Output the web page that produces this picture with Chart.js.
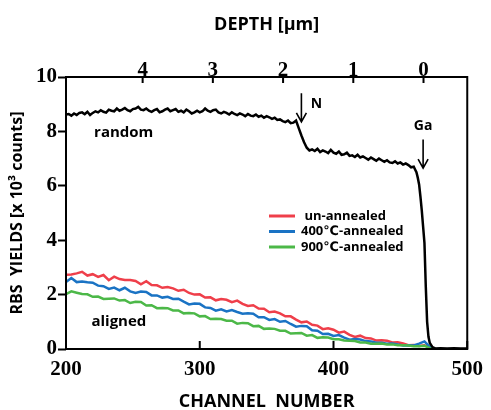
<!DOCTYPE html>
<html><head><meta charset="utf-8">
<script src="https://cdn.jsdelivr.net/npm/chart.js@4.4.1/dist/chart.umd.min.js"></script>
<style>html,body{margin:0;padding:0;background:#fff}canvas{display:block}</style>
</head><body>
<canvas id="c" width="491" height="410"></canvas>
<script>
// ---- data ----
const yTicks = [0, 2, 4, 6, 8, 10];
const xTicks = [200, 300, 400, 500];
const depthTicks = [0, 1, 2, 3, 4];
const depthZeroChannel = 467.3;   // channel at depth 0
const channelsPerMicron = 52.5;

const randomChannels = [200,202,204,206,208,210,212,214,216,218,220,222,224,226,228,230,232,234,236,238,240,242,244,246,248,250,252,254,256,258,260,262,264,266,268,270,272,274,276,278,280,282,284,286,288,290,292,294,296,298,300,302,304,306,308,310,312,314,316,318,320,322,324,326,328,330,332,334,336,338,340,342,344,346,348,350,352,354,356,358,360,362,364,366,368,370,372,374,376,378,380,382,384,386,388,390,392,394,396,398,400,402,404,406,408,410,412,414,416,418,420,422,424,426,428,430,432,434,436,438,440,442,444,446,448,450,452,454,456,458,460,461,462,463,464,465,466,467,468,469,470,471,472,474,476,480,485,490,495,500];
const randomYield = [
  8.62,8.64,8.58,8.66,8.60,8.68,8.70,8.63,8.72,8.60,
  8.68,8.74,8.70,8.78,8.72,8.69,8.80,8.76,8.74,8.84,
  8.76,8.80,8.86,8.78,8.74,8.82,8.84,8.90,8.80,8.78,
  8.84,8.76,8.72,8.78,8.82,8.70,8.74,8.80,8.84,8.74,
  8.78,8.82,8.72,8.76,8.70,8.80,8.74,8.66,8.70,8.76,
  8.70,8.74,8.84,8.76,8.72,8.78,8.80,8.70,8.66,8.72,
  8.68,8.62,8.70,8.64,8.60,8.66,8.62,8.56,8.64,8.58,
  8.56,8.62,8.54,8.58,8.50,8.56,8.52,8.46,8.50,8.42,
  8.44,8.38,8.34,8.40,8.30,8.32,8.40,8.12,7.85,7.60,
  7.40,7.30,7.34,7.28,7.36,7.24,7.30,7.26,7.20,7.32,
  7.22,7.18,7.26,7.14,7.16,7.22,7.10,7.12,7.06,7.14,
  7.04,7.08,7.02,6.96,7.04,6.98,6.92,7.00,6.94,6.88,
  6.94,6.86,6.84,6.90,6.82,6.86,6.78,6.82,6.76,6.68,
  6.70,6.60,6.50,6.30,6.05,5.60,5.10,4.50,3.90,2.30,
  1.00,0.45,0.22,0.07,0.02,0.03,0.02,0.03,0.02,0.02];

const alignedChannels = [200,204,208,212,216,220,224,228,232,236,240,244,248,252,256,260,264,268,272,276,280,284,288,292,296,300,304,308,312,316,320,324,328,332,336,340,344,348,352,356,360,364,368,372,376,380,384,388,392,396,400,404,408,412,416,420,424,428,432,436,440,444,448,452,456,460,464,468,472,476];
const unAnnealed = [2.73,2.74,2.78,2.84,2.70,2.75,2.65,2.72,2.53,2.66,2.57,2.54,2.54,2.50,2.38,2.49,2.35,2.34,2.25,2.28,2.23,2.14,2.18,2.06,2.00,2.01,1.89,1.90,1.79,1.84,1.81,1.72,1.78,1.66,1.58,1.61,1.49,1.48,1.35,1.38,1.31,1.20,1.20,1.08,0.98,1.01,0.89,0.86,0.73,0.76,0.71,0.60,0.64,0.52,0.44,0.49,0.40,0.39,0.31,0.32,0.30,0.24,0.25,0.20,0.14,0.15,0.11,0.14,0.04,0.00];
const annealed400 = [2.46,2.61,2.46,2.48,2.45,2.44,2.33,2.31,2.21,2.26,2.16,2.25,2.12,2.06,2.11,2.10,1.97,1.97,1.89,1.92,1.84,1.85,1.74,1.64,1.67,1.66,1.53,1.51,1.41,1.46,1.38,1.43,1.36,1.30,1.31,1.30,1.17,1.17,1.07,1.10,1.00,1.03,0.92,0.82,0.85,0.84,0.69,0.67,0.55,0.56,0.48,0.51,0.42,0.34,0.37,0.35,0.29,0.28,0.23,0.23,0.19,0.20,0.17,0.13,0.14,0.13,0.20,0.28,0.08,0.00];
const annealed900 = [2.02,2.12,2.07,2.02,2.01,1.92,1.93,1.84,1.85,1.86,1.78,1.80,1.69,1.74,1.73,1.60,1.61,1.50,1.51,1.50,1.42,1.42,1.31,1.32,1.31,1.20,1.21,1.10,1.11,1.10,1.04,1.04,0.93,0.96,0.95,0.84,0.85,0.74,0.75,0.74,0.67,0.67,0.57,0.58,0.59,0.49,0.51,0.41,0.43,0.42,0.36,0.36,0.31,0.30,0.29,0.24,0.24,0.19,0.19,0.20,0.17,0.17,0.14,0.14,0.13,0.10,0.10,0.12,0.03,0.00];

const seriesNames = [' un-annealed', '400\u2103-annealed', '900\u2103-annealed'];
const seriesColors = ['#ef3f4a', '#1a73c4', '#4cb848'];

// ---- helpers ----
const toPts = (xs, ys) => xs.map((x, i) => ({x: x, y: ys[i]}));
const depthOf = ch => (depthZeroChannel - ch) / channelsPerMicron;
const SANS = '"Open Sans", "DejaVu Sans", sans-serif';
const SERIF = '"Liberation Serif", "DejaVu Serif", serif';

const frameAndTicks = {
  id: 'frameAndTicks',
  afterDatasetsDraw(chart) {
    const {ctx, chartArea: a, scales} = chart;
    ctx.save();
    ctx.strokeStyle = '#000';
    ctx.lineWidth = 2;
    ctx.beginPath();
    scales.x.ticks.forEach(t => {
      const px = scales.x.getPixelForValue(t.value);
      ctx.moveTo(px, a.bottom); ctx.lineTo(px, a.bottom - 8);
    });
    scales.x2.ticks.forEach(t => {
      const px = scales.x2.getPixelForValue(t.value);
      ctx.moveTo(px, a.top); ctx.lineTo(px, a.top + 6);
    });
    ctx.stroke();
    ctx.strokeRect(a.left, a.top, a.right - a.left, a.bottom - a.top);
    ctx.restore();
  }
};

const annotations = {
  id: 'annotations',
  afterDatasetsDraw(chart) {
    const {ctx, scales: {x, y}} = chart;
    ctx.save();
    ctx.fillStyle = '#000';
    ctx.strokeStyle = '#000';
    ctx.textBaseline = 'middle';
    ctx.font = 'bold 15px ' + SANS;
    ctx.textAlign = 'left';
    ctx.fillText('random', x.getPixelForValue(221), y.getPixelForValue(7.94));
    ctx.fillText('aligned', x.getPixelForValue(219), y.getPixelForValue(0.99));
    ctx.font = 'bold 14px ' + SANS;
    ctx.fillText('N', x.getPixelForValue(383), y.getPixelForValue(9.0));
    ctx.textAlign = 'center';
    ctx.fillText('Ga', x.getPixelForValue(467), y.getPixelForValue(8.2));
    const arrow = (ch, v0, v1) => {
      const px = x.getPixelForValue(ch), p0 = y.getPixelForValue(v0), p1 = y.getPixelForValue(v1);
      ctx.lineWidth = 1.6;
      ctx.beginPath();
      ctx.moveTo(px, p0); ctx.lineTo(px, p1);
      ctx.moveTo(px - 5, p1 - 9); ctx.lineTo(px, p1); ctx.lineTo(px + 5, p1 - 9);
      ctx.stroke();
    };
    arrow(376, 9.4, 8.35);
    arrow(467, 7.7, 6.65);
    // legend
    ctx.textAlign = 'left';
    ctx.font = 'bold 13px ' + SANS;
    seriesNames.forEach((n, i) => {
      const yy = 216 + i * 15.5;
      ctx.strokeStyle = seriesColors[i];
      ctx.lineWidth = 3;
      ctx.beginPath(); ctx.moveTo(269, yy); ctx.lineTo(295, yy); ctx.stroke();
      ctx.fillText(n, 301, yy);
    });
    ctx.restore();
  }
};

new Chart(document.getElementById('c'), {
  type: 'line',
  data: {
    datasets: [
      {label: 'random', data: toPts(randomChannels, randomYield), borderColor: '#000', borderWidth: 2.5, order: 0},
      {label: seriesNames[2], data: toPts(alignedChannels, annealed900), borderColor: seriesColors[2], borderWidth: 2.5, order: 1},
      {label: seriesNames[1], data: toPts(alignedChannels, annealed400), borderColor: seriesColors[1], borderWidth: 2.5, order: 2},
      {label: seriesNames[0], data: toPts(alignedChannels, unAnnealed), borderColor: seriesColors[0], borderWidth: 2.5, order: 3}
    ]
  },
  options: {
    responsive: false,
    animation: false,
    devicePixelRatio: 1,
    elements: {point: {radius: 0}, line: {tension: 0}},
    layout: {padding: {left: 0, right: 21, top: 0, bottom: 0}},
    plugins: {legend: {display: false}, tooltip: {enabled: false}},
    scales: {
      x: {
        type: 'linear', position: 'bottom', min: 200, max: 500,
        afterBuildTicks: s => { s.ticks = xTicks.map(v => ({value: v})); },
        afterFit: s => { s.height = 61; },
        grid: {drawOnChartArea: false, drawTicks: false},
        border: {display: false},
        ticks: {color: '#000', padding: 8, font: {family: SERIF, weight: 'bold', size: 21}, maxRotation: 0},
        title: {display: true, text: 'CHANNEL  NUMBER', color: '#000', font: {family: SANS, weight: 'bold', size: 18}, padding: {top: 0, bottom: -3}}
      },
      x2: {
        type: 'linear', position: 'top', reverse: true,
        min: depthOf(500), max: depthOf(200),
        afterBuildTicks: s => { s.ticks = depthTicks.map(v => ({value: v})); },
        afterFit: s => { s.height = 77; },
        grid: {drawOnChartArea: false, drawTicks: false},
        border: {display: false},
        ticks: {color: '#000', padding: -6, font: {family: SERIF, weight: 'bold', size: 21}, maxRotation: 0},
        title: {display: true, text: 'DEPTH [\u03bcm]', color: '#000', font: {family: SANS, weight: 'bold', size: 18}, padding: {top: 14, bottom: 0}}
      },
      y: {
        type: 'linear', position: 'left', min: 0, max: 10,
        afterBuildTicks: s => { s.ticks = yTicks.map(v => ({value: v})); },
        afterFit: s => { s.width = 66; },
        grid: {drawOnChartArea: false, drawTicks: true, tickLength: 8, tickColor: '#000', tickWidth: 2},
        border: {display: false},
        ticks: {color: '#000', padding: 1, font: {family: SERIF, weight: 'bold', size: 21}},
        title: {display: true, text: 'RBS  YIELDS [x 10\u00b3 counts]', color: '#000', font: {family: SANS, weight: 'bold', size: 16}, padding: {top: 8, bottom: 0}}
      }
    }
  },
  plugins: [frameAndTicks, annotations]
});
</script>
</body></html>
